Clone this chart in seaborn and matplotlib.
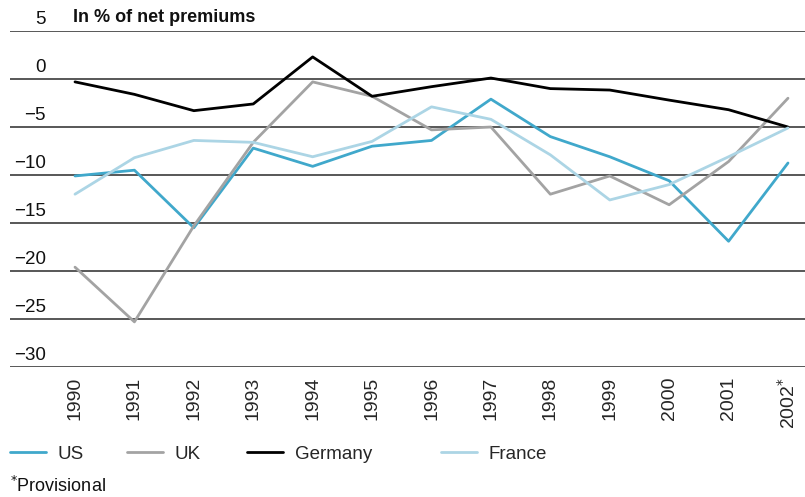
import numpy as np
import pandas as pd
import matplotlib
matplotlib.use("Agg")
import matplotlib.pyplot as plt
import matplotlib.transforms as mtransforms
from matplotlib.lines import Line2D
import seaborn as sns

years = ["1990", "1991", "1992", "1993", "1994", "1995", "1996",
         "1997", "1998", "1999", "2000", "2001", "2002"]
us = [-10.1, -9.5, -15.5, -7.2, -9.1, -7.0, -6.4, -2.1, -6.0, -8.1, -10.6, -16.9, -8.75]
uk = [-19.6, -25.3, -15.3, -6.6, -0.3, -1.8, -5.3, -5.0, -12.0, -10.1, -13.1, -8.6, -2.0]
germany = [-0.3, -1.6, -3.3, -2.6, 2.3, -1.8, -0.8, 0.1, -1.0, -1.15, -2.2, -3.2, -5.0]
france = [-12.0, -8.2, -6.4, -6.6, -8.1, -6.5, -2.9, -4.2, -7.9, -12.6, -11.0, -8.1, -5.1]
series_names = ["US", "UK", "Germany", "France"]
colors = ["#40a8cb", "#a3a3a3", "#000000", "#acd5e5"]
yticks = [5, 0, -5, -10, -15, -20, -25, -30]
xlabels = years[:-1] + ["2002$^{*}$"]

sns.set_theme(style="white")
plt.rcParams["font.family"] = ["Liberation Sans", "DejaVu Sans"]

rows = []
for name, vals in zip(series_names, [us, uk, germany, france]):
    for i, v in enumerate(vals):
        rows.append({"x": i, "value": v, "series": name})
df = pd.DataFrame(rows)

W, H = 805, 497
fig = plt.figure(figsize=(W / 100, H / 100), dpi=100)
left, right, top, bottom = 10, 805, 31, 367
ax = fig.add_axes([left / W, 1 - bottom / H, (right - left) / W, (bottom - top) / H])

for yv in yticks:
    ax.axhline(yv, color="#2a2a2a", lw=1.1, zorder=1)

sns.lineplot(data=df, x="x", y="value", hue="series", palette=colors,
             hue_order=series_names, linewidth=2.0, ax=ax, legend=False, zorder=3)

# x range: 1990 at px 75, 2002 at px 788
step = (788 - 75) / 12
ax.set_xlim(-(75 - left) / step, 12 + (right - 788) / step)
ax.set_ylim(-30, 5)
for s in ax.spines.values():
    s.set_visible(False)

ax.set_xticks(range(len(years)))
ax.set_xticklabels(xlabels, rotation=90, va="top", ha="center", fontsize=14)
ax.tick_params(axis="x", length=0, pad=7)
ax.set_yticks([])
ax.set_xlabel("")
ax.set_ylabel("")

trans = mtransforms.blended_transform_factory(fig.transFigure, ax.transData)
for yv in yticks:
    lab = str(yv).replace("-", "\u2212")
    ax.text(46 / W, yv, lab, transform=mtransforms.offset_copy(trans, fig=fig, x=0, y=12, units="dots"),
            ha="right", va="center", fontsize=13.5, color="#111111")

fig.text(73 / W, 1 - 17 / H, "In % of net premiums", fontsize=13, fontweight="bold",
         ha="left", va="center", color="#111111")

legend_x = [10, 127, 247, 441]
for name, c, lx in zip(series_names, colors, legend_x):
    fig.legend([Line2D([0], [0], color=c, lw=2.0)], [name], loc="center left",
               bbox_to_anchor=(lx / W, 1 - 454 / H), frameon=False, fontsize=13.5,
               handlelength=1.9, handletextpad=0.65, borderpad=0, borderaxespad=0)

fig.text(10 / W, 1 - 486 / H, "$^{*}$Provisional", fontsize=13, ha="left", va="center",
         color="#111111")

fig.savefig("out.png", dpi=100)
